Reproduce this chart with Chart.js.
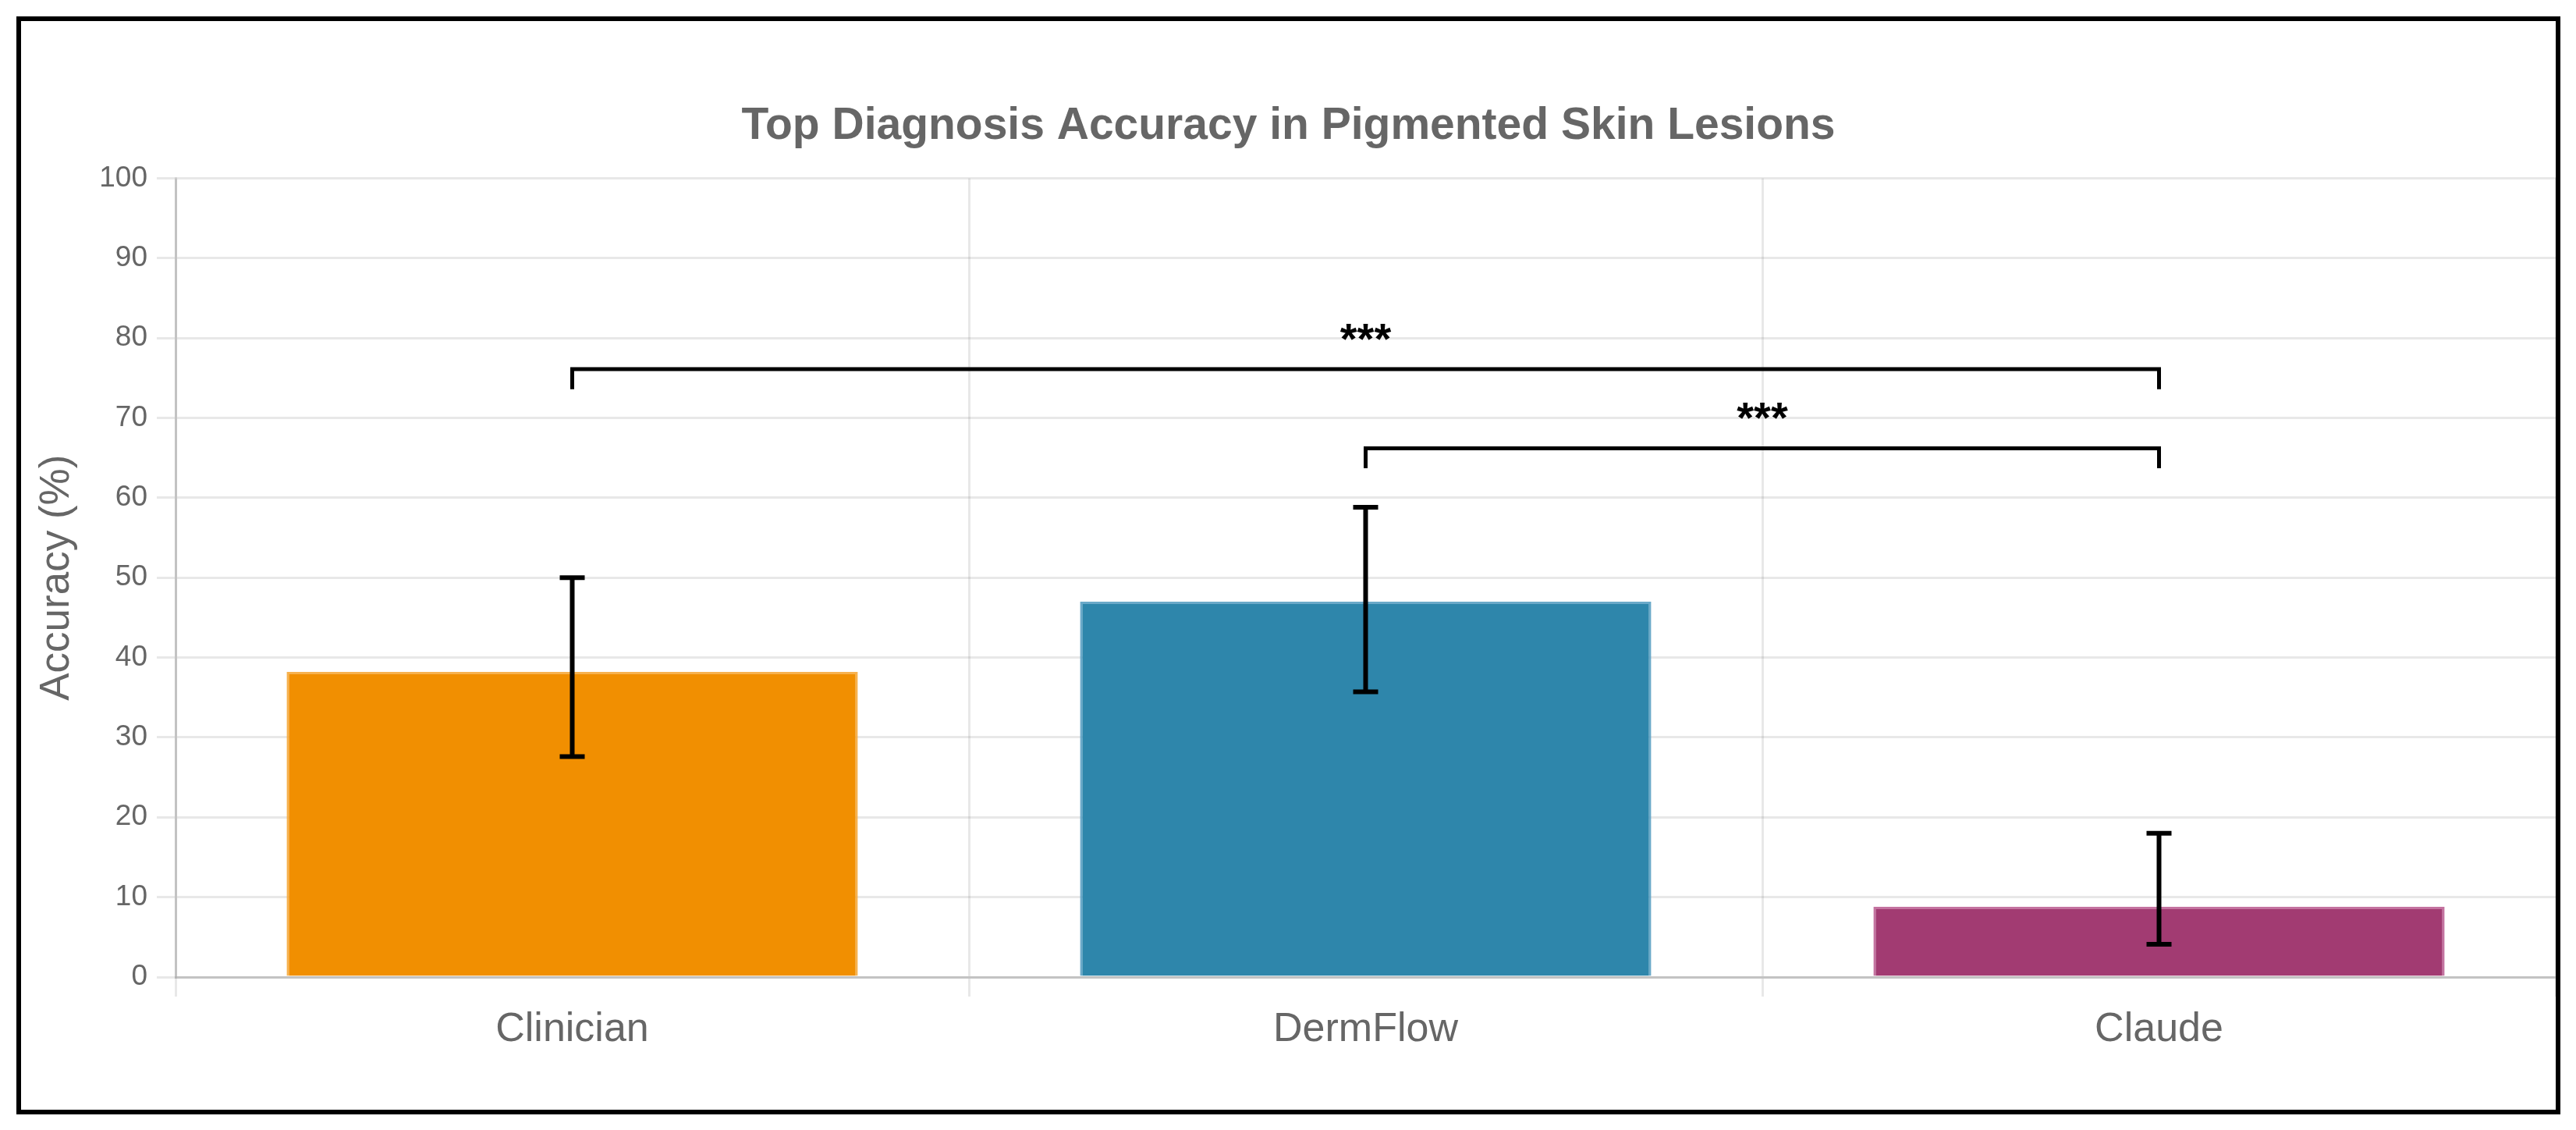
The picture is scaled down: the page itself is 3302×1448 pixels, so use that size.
<!DOCTYPE html>
<html><head><meta charset="utf-8">
<script src="https://cdn.jsdelivr.net/npm/chart.js@4.4.1/dist/chart.umd.min.js"></script>
<style>
html,body{margin:0;padding:0;background:#fff;width:3302px;height:1448px;overflow:hidden}
#frame{position:absolute;left:21px;top:21px;width:3249px;height:1395px;border:6px solid #000;background:#fff}
#frame canvas{display:block}
</style></head><body>
<div id="frame"><canvas id="c" width="3249" height="1395"></canvas></div>
<script>
// ---- data ----
const categories = ['Clinician', 'DermFlow', 'Claude'];
const accuracy = [38.2, 47.0, 8.8];
const ciLower = [27.6, 35.7, 4.1];
const ciUpper = [50.0, 58.8, 18.0];
const barColors = ['#F18F01', '#2E86AB', '#A23B72'];
const barEdgeColors = ['rgba(246,170,60,0.9)', 'rgba(90,160,195,0.9)', 'rgba(190,100,150,0.9)'];
const yMin = 0, yMax = 100, yStep = 10;
const bracketFrom = [0, 1];
const bracketTo = [2, 2];
const bracketLevel = [76.1, 66.2];
const bracketTip = [73.6, 63.7];
const bracketLabel = ['***', '***'];
const chartTitle = 'Top Diagnosis Accuracy in Pigmented Skin Lesions';
const yTitle = 'Accuracy (%)';

const FONT = "'Liberation Sans', Arial, Helvetica, sans-serif";

const annotations = {
  id: 'annotations',
  afterDatasetsDraw(chart) {
    const ctx = chart.ctx;
    const y = chart.scales.y;
    const meta = chart.getDatasetMeta(0);
    ctx.save();
    // error bars
    ctx.strokeStyle = '#000';
    ctx.lineWidth = 6;
    ctx.lineCap = 'butt';
    for (let i = 0; i < categories.length; i++) {
      const x = meta.data[i].x;
      const yLo = y.getPixelForValue(ciLower[i]);
      const yHi = y.getPixelForValue(ciUpper[i]);
      ctx.beginPath();
      ctx.moveTo(x, yLo); ctx.lineTo(x, yHi);
      ctx.moveTo(x - 16, yLo); ctx.lineTo(x + 16, yLo);
      ctx.moveTo(x - 16, yHi); ctx.lineTo(x + 16, yHi);
      ctx.stroke();
    }
    // significance brackets
    ctx.lineWidth = 5;
    ctx.lineJoin = 'miter';
    ctx.fillStyle = '#000';
    ctx.font = 'bold 56px ' + FONT;
    ctx.textAlign = 'center';
    ctx.textBaseline = 'alphabetic';
    for (let k = 0; k < bracketFrom.length; k++) {
      const x1 = meta.data[bracketFrom[k]].x;
      const x2 = meta.data[bracketTo[k]].x;
      const yl = y.getPixelForValue(bracketLevel[k]);
      const yt = y.getPixelForValue(bracketTip[k]);
      ctx.beginPath();
      ctx.moveTo(x1, yt); ctx.lineTo(x1, yl); ctx.lineTo(x2, yl); ctx.lineTo(x2, yt);
      ctx.stroke();
      ctx.fillText(bracketLabel[k], (x1 + x2) / 2, yl - 20);
    }
    ctx.restore();
  }
};

new Chart(document.getElementById('c'), {
  type: 'bar',
  data: {
    labels: categories,
    datasets: [{
      label: 'Accuracy',
      data: accuracy,
      backgroundColor: barColors,
      borderColor: barEdgeColors,
      borderWidth: 3,
      barPercentage: 0.9,
      categoryPercentage: 0.8
    }]
  },
  options: {
    responsive: false,
    devicePixelRatio: 1,
    animation: false,
    layout: { padding: { left: 0, right: 0, top: 0, bottom: 0 } },
    plugins: {
      legend: { display: false },
      tooltip: { enabled: false },
      title: {
        display: true,
        text: chartTitle,
        color: '#666',
        font: { family: FONT, size: 57, weight: 'bold' },
        padding: { top: 101, bottom: 32 }
      }
    },
    scales: {
      x: {
        grid: { color: 'rgba(0,0,0,0.09)', lineWidth: 3, tickLength: 25, offset: true },
        border: { color: 'rgba(0,0,0,0.16)', width: 3 },
        ticks: { color: '#666', padding: 11, font: { family: FONT, size: 52 } },
        afterFit(s) { s.height = 170; }
      },
      y: {
        min: yMin, max: yMax,
        grid: { color: 'rgba(0,0,0,0.09)', lineWidth: 3, tickLength: 24 },
        border: { color: 'rgba(0,0,0,0.16)', width: 3 },
        ticks: { stepSize: yStep, color: '#666', padding: 12, font: { family: FONT, size: 37 } },
        title: {
          display: true, text: yTitle, color: '#666',
          font: { family: FONT, size: 53 },
          padding: { top: 15, bottom: 10 }
        },
        afterFit(s) { s.width = 198; }
      }
    }
  },
  plugins: [annotations]
});
</script>
</body></html>
